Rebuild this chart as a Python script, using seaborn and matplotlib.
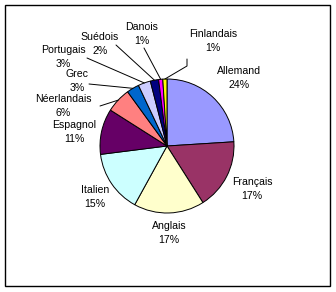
import matplotlib
matplotlib.use("Agg")
import matplotlib.pyplot as plt
import seaborn as sns
from matplotlib.patches import Rectangle
import numpy as np

sns.set_theme(style="white")
plt.rcParams['font.family'] = ['Liberation Sans', 'DejaVu Sans']

languages = ["Allemand", "Français", "Anglais", "Italien", "Espagnol", "Néerlandais",
             "Grec", "Portugais", "Suédois", "Danois", "Finlandais"]
shares = [24, 17, 17, 15, 11, 6, 3, 3, 2, 1, 1]
colors = ["#9999FF", "#993366", "#FFFFCC", "#CCFFFF", "#660066", "#FF8080",
          "#0066CC", "#CCCCFF", "#000080", "#FF00FF", "#FFFF00"]

W, H = 336, 292
CX, CY, R = 167, 146, 67

fig = plt.figure(figsize=(W / 100, H / 100), dpi=100)
ax = fig.add_axes([0, 0, 1, 1])

def px(x, y):
    return ((x - CX) / R, (CY - y) / R)

ax.pie(shares, colors=colors, startangle=90, counterclock=False, radius=1,
       wedgeprops=dict(edgecolor="black", linewidth=0.7))

# label centres (pixels) of each two-line label
label_pos = {
    "Allemand": (239, 78), "Français": (252, 189), "Anglais": (169, 233),
    "Italien": (95, 197), "Espagnol": (74, 132), "Néerlandais": (63, 106),
    "Grec": (77, 81), "Portugais": (63, 57), "Suédois": (100, 44),
    "Danois": (142, 34), "Finlandais": (213, 41),
}
# leader line starts (pixels) for small slices
leader_start = {
    "Néerlandais": [(100, 106)], "Grec": [(89, 84)], "Portugais": [(87, 58)],
    "Suédois": [(116, 45)], "Danois": [(144, 48)], "Finlandais": [(187, 59), (187, 66)],
}

cum = 0
for lang, v in zip(languages, shares):
    mid = 90 - 360 * (cum + v / 2) / sum(shares)
    cum += v
    lx, ly = px(*label_pos[lang])
    ax.text(lx, ly, f"{lang}\n{v}%", ha="center", va="center", fontsize=7.6,
            linespacing=1.45, color="black")
    if lang in leader_start:
        pts = [px(*p) for p in leader_start[lang]]
        end = (np.cos(np.radians(mid)), np.sin(np.radians(mid)))
        xs = [p[0] for p in pts] + [end[0]]
        ys = [p[1] for p in pts] + [end[1]]
        ax.plot(xs, ys, color="black", linewidth=0.7)

ax.set_aspect("auto")
ax.set_xlim(-CX / R, (W - CX) / R)
ax.set_ylim((CY - H) / R, CY / R)
ax.axis("off")

fig.patches.append(Rectangle((5 / W, 1 - 286 / H), 325 / W, 281 / H,
                             transform=fig.transFigure, fill=False,
                             edgecolor="black", linewidth=1))

fig.savefig("out.png", dpi=100, facecolor="white")
